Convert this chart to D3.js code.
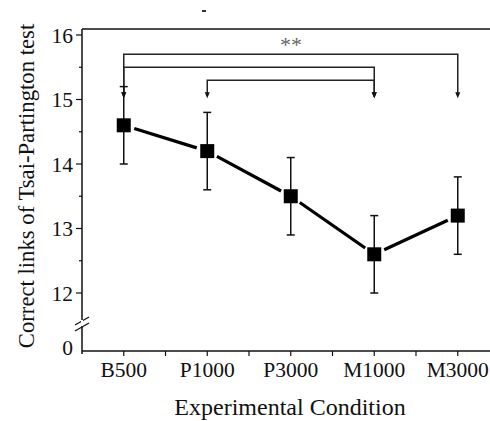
<!DOCTYPE html>
<html>
<head>
<meta charset="utf-8">
<script src="https://cdn.jsdelivr.net/npm/d3@7"></script>
<style>
body { margin: 0; background: #fff; }
svg text { font-family: "Times New Roman", "Liberation Serif", "DejaVu Serif", serif; fill: #111; }
</style>
</head>
<body>
<svg id="chart" width="490" height="421"></svg>
<script>
// line chart with error bars and significance brackets

var conditions = ["B500", "P1000", "P3000", "M1000", "M3000"];
var means = [14.6, 14.2, 13.5, 12.6, 13.2];
var errs = [0.6, 0.6, 0.6, 0.6, 0.6];
var yTicks = [12, 13, 14, 15, 16];
// brackets: [from, to, level]
var brackets = [["B500", "M3000", 15.7], ["B500", "M1000", 15.5], ["P1000", "M1000", 15.3]];
var arrowTip = 15.05;

var svg = d3.select("#chart"),
    margin = {top: 29, left: 82},
    axisY = 351;

var x = d3.scaleLinear().domain([-0.5, 4.5]).range([82, 499.5]);
var y = d3.scaleLinear().domain([12, 16]).range([293, 35]);

var g = svg.append("g");

// frame top line
g.append("line").attr("x1", 82).attr("x2", 490).attr("y1", margin.top).attr("y2", margin.top)
    .attr("stroke", "#111").attr("stroke-width", 1.5);

// left axis
g.append("line").attr("x1", 82).attr("x2", 82).attr("y1", margin.top).attr("y2", axisY + 3)
    .attr("stroke", "#111").attr("stroke-width", 1.5);
// bottom axis
g.append("line").attr("x1", 82).attr("x2", 490).attr("y1", axisY).attr("y2", axisY)
    .attr("stroke", "#111").attr("stroke-width", 1.5);

// y ticks
yTicks.forEach(function(t) {
    g.append("line").attr("x1", 76).attr("x2", 82).attr("y1", y(t)).attr("y2", y(t))
        .attr("stroke", "#111").attr("stroke-width", 1.2);
    g.append("text").attr("x", 73).attr("y", y(t)).attr("dy", "0.35em")
        .attr("text-anchor", "end").attr("font-size", 21.5).text(t);
});
[12.5, 13.5, 14.5, 15.5].forEach(function(t) {
    g.append("line").attr("x1", 79).attr("x2", 82).attr("y1", y(t)).attr("y2", y(t))
        .attr("stroke", "#111").attr("stroke-width", 1.2);
});
// zero label + break marks
g.append("text").attr("x", 73).attr("y", axisY - 4).attr("dy", "0.35em")
    .attr("text-anchor", "end").attr("font-size", 21.5).text("0");
[0, 6].forEach(function(o) {
    g.append("line").attr("x1", 75).attr("x2", 89).attr("y1", 331 - o + 0).attr("y2", 323 - o)
        .attr("stroke", "#111").attr("stroke-width", 1.3);
});
g.append("rect").attr("x", 81).attr("y", 320).attr("width", 2).attr("height", 6).attr("fill", "#fff");

// x ticks
d3.range(-0.5, 5, 0.5).forEach(function(i) {
    if (i <= -0.5) return;
    g.append("line").attr("x1", x(i)).attr("x2", x(i)).attr("y1", axisY).attr("y2", axisY + 5)
        .attr("stroke", "#111").attr("stroke-width", 1.2);
});
conditions.forEach(function(c, i) {
    g.append("text").attr("x", x(i)).attr("y", 377).attr("text-anchor", "middle")
        .attr("font-size", 21.5).text(c);
});

// axis titles
g.append("text").attr("x", 290).attr("y", 415).attr("text-anchor", "middle")
    .attr("font-size", 24).text("Experimental Condition");
g.append("text").attr("transform", "translate(34,186) rotate(-90)").attr("text-anchor", "middle")
    .attr("font-size", 22.7).text("Correct links of Tsai-Partington test");

// brackets
var ci = function(c) { return x(conditions.indexOf(c)); };
brackets.forEach(function(b) {
    var x1 = ci(b[0]), x2 = ci(b[1]);
    g.append("path").attr("d", "M" + x1 + "," + y(arrowTip) + "V" + y(b[2]) + "H" + x2 + "V" + y(arrowTip))
        .attr("fill", "none").attr("stroke", "#222").attr("stroke-width", 1.5);
    [x1, x2].forEach(function(xx) {
        g.append("path").attr("d", "M" + (xx - 2.5) + "," + (y(arrowTip) - 4) + "L" + (xx + 2.5) + "," + (y(arrowTip) - 4) + "L" + xx + "," + (y(arrowTip) + 2) + "Z")
            .attr("fill", "#111");
    });
});
g.append("text").attr("x", 291).attr("y", 52).attr("text-anchor", "middle")
    .attr("font-size", 22).style("fill", "#666").text("**");
g.append("rect").attr("x", 202).attr("y", 10).attr("width", 4).attr("height", 2).attr("fill", "#333");

// error bars
var eb = g.append("g").selectAll("g").data(means).enter().append("g");
eb.append("line").attr("x1", function(d, i) { return x(i); }).attr("x2", function(d, i) { return x(i); })
    .attr("y1", function(d, i) { return y(d - errs[i]); }).attr("y2", function(d, i) { return y(d + errs[i]); })
    .attr("stroke", "#111").attr("stroke-width", 1.5);
[-1, 1].forEach(function(s) {
    eb.append("line").attr("x1", function(d, i) { return x(i) - 4; }).attr("x2", function(d, i) { return x(i) + 4; })
        .attr("y1", function(d, i) { return y(d + s * errs[i]); }).attr("y2", function(d, i) { return y(d + s * errs[i]); })
        .attr("stroke", "#111").attr("stroke-width", 1.5);
});

// line segments with gaps at markers
var gap = 11;
for (var i = 0; i < means.length - 1; i++) {
    var xa = x(i), ya = y(means[i]), xb = x(i + 1), yb = y(means[i + 1]);
    var len = Math.hypot(xb - xa, yb - ya), ux = (xb - xa) / len, uy = (yb - ya) / len;
    g.append("line").attr("x1", xa + ux * gap).attr("y1", ya + uy * gap)
        .attr("x2", xb - ux * gap).attr("y2", yb - uy * gap)
        .attr("stroke", "#000").attr("stroke-width", 3.2);
}

// markers
g.append("g").selectAll("rect").data(means).enter().append("rect")
    .attr("x", function(d, i) { return x(i) - 7; })
    .attr("y", function(d) { return y(d) - 7; })
    .attr("width", 14).attr("height", 14).attr("fill", "#000");
</script>
</body>
</html>
